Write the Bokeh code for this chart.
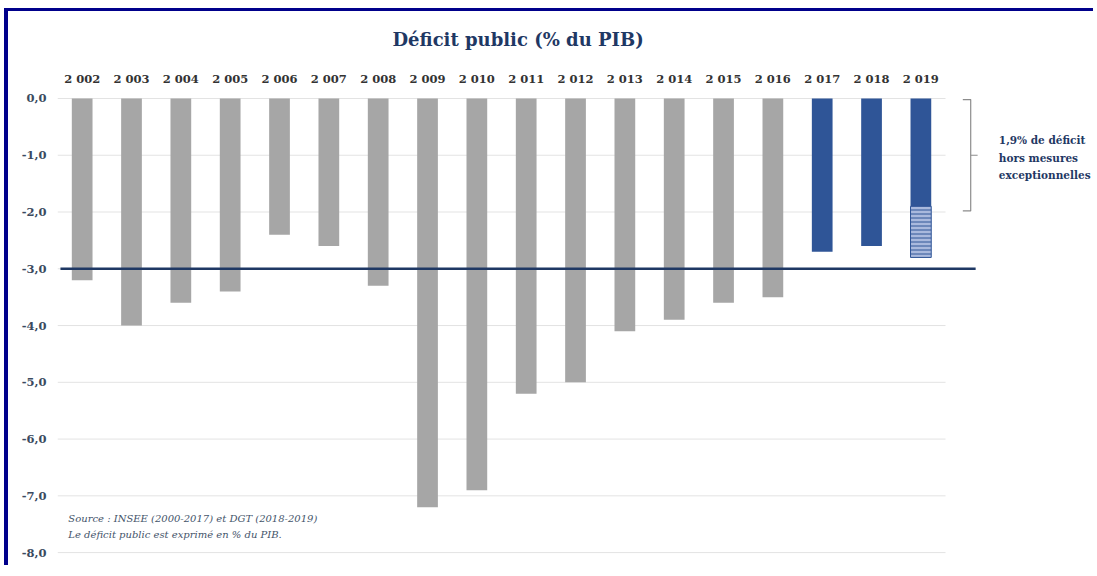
from bokeh.plotting import figure
from bokeh.models import ColumnDataSource, Label, FixedTicker, Range1d
from bokeh.embed import file_html
from bokeh.resources import INLINE

title_text = "Déficit public (% du PIB)"
years = ["2002", "2003", "2004", "2005", "2006", "2007", "2008", "2009", "2010",
         "2011", "2012", "2013", "2014", "2015", "2016", "2017", "2018", "2019"]
deficit = [-3.2, -4.0, -3.6, -3.4, -2.4, -2.6, -3.3, -7.2, -6.9,
           -5.2, -5.0, -4.1, -3.9, -3.6, -3.5, -2.7, -2.6, -1.9]
exceptional_2019 = [-1.9, -2.8]   # from, to (hatched part of 2019)
y_ticks = [0, -1, -2, -3, -4, -5, -6, -7, -8]
y_labels = ["0,0", "-1,0", "-2,0", "-3,0", "-4,0", "-5,0", "-6,0", "-7,0", "-8,0"]
threshold = -3.0
year_labels = [y[0] + " " + y[1:] for y in years]
note_lines = ["1,9% de déficit", "hors mesures", "exceptionnelles"]
source_lines = ["Source : INSEE (2000-2017) et DGT (2018-2019)",
                "Le déficit public est exprimé en % du PIB."]

GRAY = "#a6a6a6"
BLUE = "#2f5597"
NAVY = "#1f3864"
SERIF = "DejaVu Serif"

xs = list(range(len(years)))
colors = [GRAY] * 15 + [BLUE] * 3

p = figure(width=1089, height=557, output_backend="svg", toolbar_location=None,
           x_range=Range1d(-0.5, 20.58), y_range=Range1d(-8.28, 0.123),
           min_border_left=49, min_border_right=0, min_border_top=80, min_border_bottom=0,
           x_axis_location="above")
p.styles = {"border-top": "3px solid #00008b", "border-left": "4px solid #00008b",
            "margin-left": "4px", "margin-top": "8px"}
p.outline_line_color = None
p.xgrid.visible = False
p.ygrid.visible = False

p.title.text = title_text
p.title.text_font = SERIF
p.title.text_font_size = "18px"
p.title.text_font_style = "bold"
p.title.text_color = NAVY
p.title.align = "left"
p.title.offset = 335
p.title.vertical_align = "top"
p.title.standoff = 33

# grid lines (only across bar area)
p.segment(x0=[-0.5] * len(y_ticks), x1=[17.5] * len(y_ticks), y0=y_ticks, y1=y_ticks,
          line_color="#e3e3e3", line_width=1)

src = ColumnDataSource(dict(x=xs, top=[0] * len(xs), bottom=deficit, color=colors))
p.vbar(x="x", top="top", bottom="bottom", width=0.42, fill_color="color",
       line_color=None, source=src)

# hatched exceptional part of 2019
p.vbar(x=[17], top=[exceptional_2019[0]], bottom=[exceptional_2019[1]], width=0.42,
       fill_color="#a9b9dd", line_color=BLUE, line_width=1,
       hatch_pattern="horizontal_line", hatch_color=BLUE, hatch_scale=4, hatch_weight=1)

# -3% line
p.line(x=[-0.44, 18.11], y=[threshold, threshold], line_color=NAVY, line_width=2.5)

# bracket
bx = 18.01
p.line(x=[bx - 0.16, bx, bx, bx - 0.16], y=[-0.02, -0.02, -1.98, -1.98],
       line_color="#8c8c8c", line_width=1.2)
p.line(x=[bx, bx + 0.14], y=[-1.0, -1.0], line_color="#8c8c8c", line_width=1.2)

for i, t in enumerate(note_lines):
    p.add_layout(Label(x=18.58, y=-0.74 - i * 0.3, text=t, text_font=SERIF,
                       text_font_size="10.5px", text_font_style="bold",
                       text_color=NAVY, text_baseline="middle"))

for i, t in enumerate(source_lines):
    p.add_layout(Label(x=-0.28, y=-7.4 - i * 0.28, text=t, text_font=SERIF,
                       text_font_size="10px", text_font_style="italic",
                       text_color="#44546a", text_baseline="middle"))

# axes
xa = p.xaxis[0]
xa.ticker = FixedTicker(ticks=xs)
xa.major_label_overrides = {i: lab for i, lab in enumerate(year_labels)}
xa.axis_line_color = None
xa.major_tick_line_color = None
xa.minor_tick_line_color = None
xa.major_label_text_font = SERIF
xa.major_label_text_font_size = "11.5px"
xa.major_label_text_font_style = "bold"
xa.major_label_text_color = "#333333"
xa.major_label_standoff = 0

ya = p.yaxis[0]
ya.ticker = FixedTicker(ticks=y_ticks)
ya.major_label_overrides = {t: l for t, l in zip(y_ticks, y_labels)}
ya.axis_line_color = None
ya.major_tick_line_color = None
ya.minor_tick_line_color = None
ya.major_label_text_font = SERIF
ya.major_label_text_font_size = "11.5px"
ya.major_label_text_font_style = "bold"
ya.major_label_text_color = "#3b4a60"
ya.major_label_standoff = 5

open("out.html", "w").write(file_html(p, INLINE))
